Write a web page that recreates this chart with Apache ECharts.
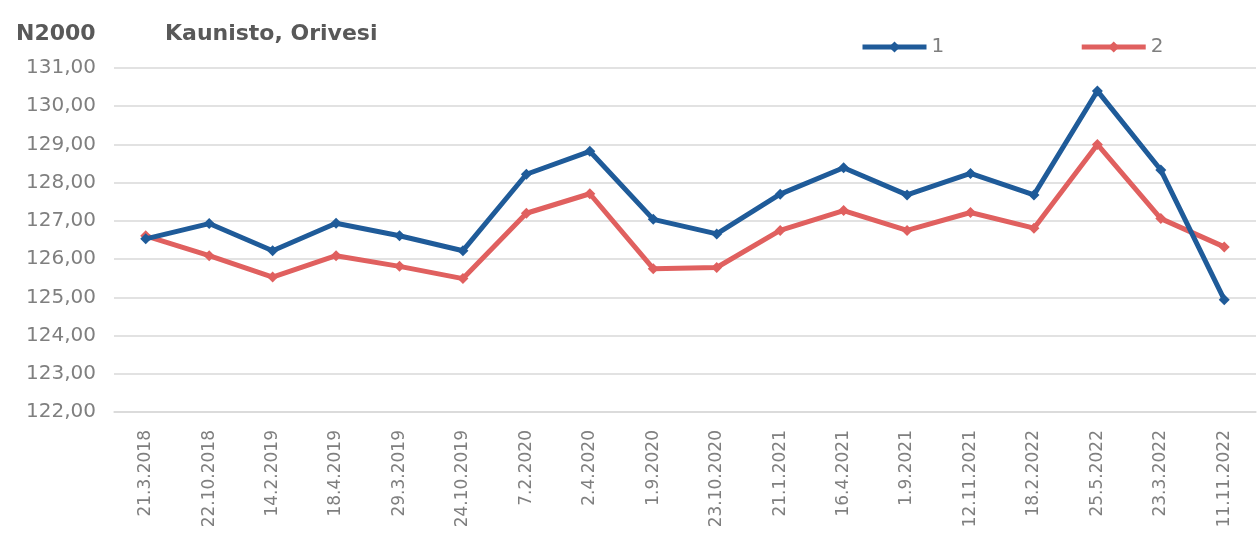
<!DOCTYPE html>
<html>
<head>
<meta charset="utf-8">
<title>Kaunisto, Orivesi</title>
<script src="https://cdn.jsdelivr.net/npm/echarts@6/dist/echarts.min.js"></script>
<style>
  html, body { margin: 0; padding: 0; background: #fff; }
  #chart { width: 1258px; height: 556px; }
</style>
</head>
<body>
<div id="chart"></div>
<script>
// mittauspäivät
var dates = ['21.3.2018', '22.10.2018', '14.2.2019', '18.4.2019', '29.3.2019', '24.10.2019',
  '7.2.2020', '2.4.2020', '1.9.2020', '23.10.2020', '21.1.2021', '16.4.2021',
  '1.9.2021', '12.11.2021', '18.2.2022', '25.5.2022', '23.3.2022', '11.11.2022'];

// korkeudet N2000
var series1 = [126.53, 126.93, 126.22, 126.94, 126.61, 126.22, 128.22, 128.82, 127.04,
  126.66, 127.70, 128.39, 127.68, 128.24, 127.68, 130.40, 128.33, 124.94];
var series2 = [126.61, 126.09, 125.53, 126.09, 125.81, 125.49, 127.20, 127.71, 125.75,
  125.78, 126.75, 127.27, 126.75, 127.22, 126.81, 129.00, 127.06, 126.32];

var yMin = 122, yMax = 131, yStep = 1;

var fontName = '"DejaVu Sans", sans-serif';
var thinFont = '"DejaVu Sans ExtraLight", "DejaVu Sans", sans-serif';
var chart = echarts.init(document.getElementById('chart'));

var fmt = function (v) {
  return v.toFixed(2).replace('.', ',');
};

chart.setOption({
  animation: false,
  title: [
    { text: 'N2000', left: 11, top: 18,
      textStyle: { fontFamily: fontName, fontSize: 22, fontWeight: 'bold', color: '#595959' } },
    { text: 'Kaunisto, Orivesi', left: 160, top: 18,
      textStyle: { fontFamily: fontName, fontSize: 22, fontWeight: 'bold', color: '#595959' } }
  ],
  legend: {
    left: 855, top: 32,
    itemWidth: 64, itemHeight: 14, itemGap: 135,
    lineStyle: { width: 5 },
    textStyle: { fontFamily: thinFont, fontSize: 20, color: '#7f7f7f' },
    data: ['1', '2']
  },
  grid: { left: 114, right: 2, top: 68, bottom: 144 },
  xAxis: {
    type: 'category',
    data: dates,
    boundaryGap: true,
    axisLine: { show: true, lineStyle: { color: '#d9d9d9', width: 1.5 } },
    axisTick: { show: false },
    axisLabel: {
      rotate: 90, margin: 18, interval: 0,
      fontFamily: thinFont, fontSize: 17, color: '#7f7f7f'
    }
  },
  yAxis: {
    type: 'value',
    min: yMin, max: yMax, interval: yStep,
    axisLine: { show: false },
    axisTick: { show: false },
    splitLine: { lineStyle: { color: '#d9d9d9', width: 1.5 } },
    axisLabel: {
      formatter: fmt, margin: 18,
      fontFamily: thinFont, fontSize: 20, color: '#7f7f7f'
    }
  },
  series: [
    {
      name: '1', type: 'line', data: series1,
      symbol: 'diamond', symbolSize: 11,
      lineStyle: { color: '#1f5b99', width: 5 },
      itemStyle: { color: '#1f5b99' },
      z: 3
    },
    {
      name: '2', type: 'line', data: series2,
      symbol: 'diamond', symbolSize: 11,
      lineStyle: { color: '#e0605f', width: 5 },
      itemStyle: { color: '#e0605f' },
      z: 2
    }
  ]
});
</script>
</body>
</html>
